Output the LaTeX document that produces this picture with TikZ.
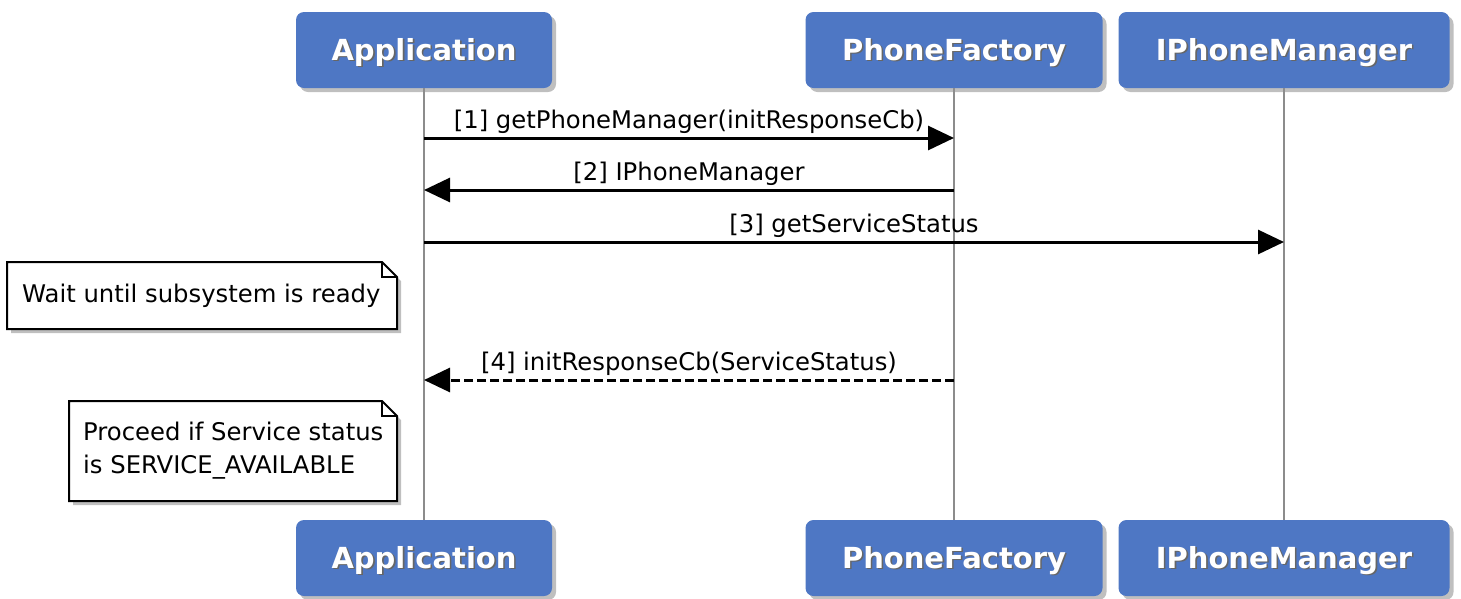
\documentclass[tikz,border=0pt]{standalone}
\usepackage{fontspec}
\setmainfont{DejaVu Sans}
\usetikzlibrary{arrows.meta,shadows}
\definecolor{headblue}{RGB}{78,119,196}
\newcommand{\hdtext}[1]{\rlap{\kern1.6pt\raisebox{-1.6pt}{\color{black!60}#1}}#1}
\tikzset{
	head/.style={fill=headblue, rounded corners=8pt, minimum height=76pt, text=white,
		font=\bfseries\fontsize{29}{33}\selectfont, text depth=2pt,
		drop shadow={opacity=0.5, shadow xshift=4pt, shadow yshift=-4pt}},
	life/.style={draw=black!45, line width=2.2pt},
	msg/.style={line width=3pt, -{Triangle[length=26pt,width=24pt]}},
	reply/.style={msg, dash pattern=on 9pt off 4pt},
	lbl/.style={font=\fontsize{24.3}{28}\selectfont, inner sep=0pt, anchor=base},
	notebox/.style={draw, line width=2pt, fill=white, line join=miter,
		drop shadow={opacity=0.5, shadow xshift=4pt, shadow yshift=-4pt}},
	notetxt/.style={font=\fontsize{24.3}{33}\selectfont, align=left, inner sep=0pt, anchor=west},
}
\begin{document}
\begin{tikzpicture}[x=1pt, y=-1pt, line cap=butt]
	\useasboundingbox[fill=white] (0,0) rectangle (1461,598);
	\def\fold{15} % ear of the notes
	% lifeline heads, top and bottom
	\foreach \n/\t/\x/\w in {app/Application/424/256, pf/PhoneFactory/954/297, ipm/IPhoneManager/1284/331}{
		\node[head, minimum width=\w pt] (\n Top) at (\x,50) {\hdtext{\t}};
		\node[head, minimum width=\w pt] (\n Bot) at (\x,558) {\hdtext{\t}};
	}
	\foreach \n in {app,pf,ipm}
	\draw[life] (\n Top.south) -- (\n Bot.north);
	% messages
	\draw[msg] (appTop.south |- 0,138) -- (pfTop.south |- 0,138)
		node[lbl, midway, yshift=10pt] (m1) {[1] getPhoneManager(initResponseCb)};
	\draw[msg] (pfTop.south |- 0,190) -- (appTop.south |- 0,190)
		node[lbl, midway, yshift=10pt] (m2) {[2] IPhoneManager};
	\draw[msg] (appTop.south |- 0,242) -- (ipmTop.south |- 0,242)
		node[lbl, midway, yshift=10pt] (m3) {[3] getServiceStatus};
	\draw[reply] (pfTop.south |- 0,380) -- (appTop.south |- 0,380)
		node[lbl, midway, yshift=10pt] (m4) {[4] initResponseCb(ServiceStatus)};
	% notes
	\draw[notebox] (7,262) -- (397-\fold,262) -- (397,262+\fold) -- (397,329) -- (7,329) -- cycle;
	\draw[line width=1.5pt] (397-\fold,262) -- (397-\fold,262+\fold) -- (397,262+\fold);
	\node[notetxt] (waitNote) at (22,296) {Wait until subsystem is ready};
	\draw[notebox] (69,401) -- (397-\fold,401) -- (397,401+\fold) -- (397,501) -- (69,501) -- cycle;
	\draw[line width=1.5pt] (397-\fold,401) -- (397-\fold,401+\fold) -- (397,401+\fold);
	\node[notetxt] (proceedNote) at (83,451) {Proceed if Service status\\is SERVICE\_AVAILABLE};
\end{tikzpicture}
\end{document}
